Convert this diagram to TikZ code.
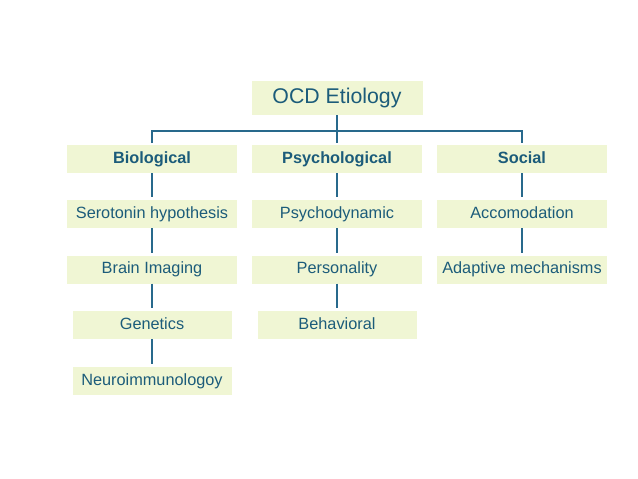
\documentclass[tikz,border=0pt]{standalone}
\usepackage{fontspec}
\setmainfont{Liberation Sans}
\definecolor{txt}{RGB}{28,92,122}
\definecolor{boxfill}{RGB}{240,246,212}
\definecolor{linec}{RGB}{40,105,140}
\begin{document}
\begin{tikzpicture}[x=1pt,y=-1pt,
  box/.style={fill=boxfill,draw=none,text=txt,inner sep=0pt,outer sep=0pt,
    minimum width=170pt,minimum height=28pt,font=\fontsize{16.3}{19}\selectfont,
    text height=11.7pt,text depth=3.3pt,anchor=center},
  narrow/.style={box,minimum width=159pt},
  head/.style={box,font=\fontsize{16.3}{19}\selectfont\bfseries},
  conn/.style={draw=linec,line width=1.2pt,shorten >=3pt}]
\useasboundingbox[fill=white] (0,0) rectangle (638,479);
\node[box,minimum width=171pt,minimum height=34pt,text height=15.3pt,text depth=4.3pt,
  font=\fontsize{21.3}{25}\selectfont] (ocd) at (337,98) {OCD Etiology};
\node[head] (bio) at (152,159) {Biological};
\node[head] (psy) at (337,159) {Psychological};
\node[head] (soc) at (522,159) {Social};
\node[box] (ser) at (152,214) {Serotonin hypothesis};
\node[box] (pdy) at (337,214) {Psychodynamic};
\node[box] (acc) at (522,214) {Accomodation};
\node[box] (bri) at (152,269.5) {Brain Imaging};
\node[box] (per) at (337,269.5) {Personality};
\node[box] (ada) at (522,269.5) {Adaptive mechanisms};
\node[narrow] (gen) at (152,325) {Genetics};
\node[narrow] (beh) at (337,325) {Behavioral};
\node[narrow] (neu) at (152,381) {Neuroimmunologoy};
\coordinate (j) at (337,131);
\draw[conn,shorten >=0pt] (ocd.south) -- ([yshift=2pt]psy.north);
\draw[conn,shorten >=0pt] ([yshift=2pt]bio.north) |- (j) -| ([yshift=2pt]soc.north);
\draw[conn] (bio) -- (ser);
\draw[conn] (ser) -- (bri);
\draw[conn] (bri) -- (gen);
\draw[conn] (gen) -- (neu);
\draw[conn] (psy) -- (pdy);
\draw[conn] (pdy) -- (per);
\draw[conn] (per) -- (beh);
\draw[conn] (soc) -- (acc);
\draw[conn] (acc) -- (ada);
\end{tikzpicture}
\end{document}
